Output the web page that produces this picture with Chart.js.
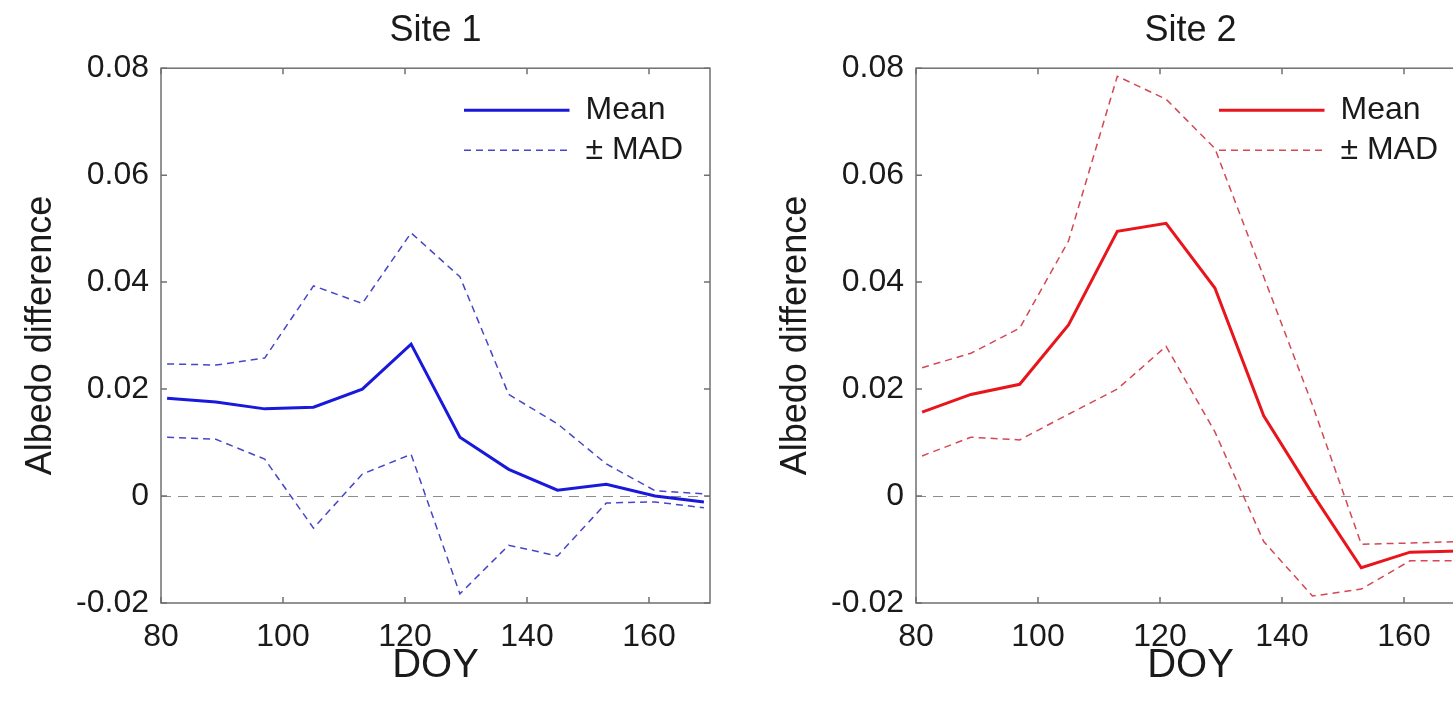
<!DOCTYPE html>
<html>
<head>
<meta charset="utf-8">
<script src="https://cdn.jsdelivr.net/npm/chart.js@4.4.1/dist/chart.umd.min.js"></script>
<style>
  html, body { margin: 0; padding: 0; background: #fff; overflow: hidden; width: 1453px; height: 702px; }
  .panel { position: absolute; top: 0; width: 730px; height: 702px; }
</style>
</head>
<body>
<div class="panel" style="left:0px"><canvas id="site1Chart" width="730" height="702"></canvas></div>
<div class="panel" style="left:755px"><canvas id="site2Chart" width="730" height="702"></canvas></div>
<script>
const doy = [81, 89, 97, 105, 113, 121, 129, 137, 145, 153, 161, 169];
const xTicks = [80, 100, 120, 140, 160];
const yTicks = [-0.02, 0, 0.02, 0.04, 0.06, 0.08];

const site1Mean = [0.0183, 0.0176, 0.0163, 0.0166, 0.0200, 0.0284, 0.0110, 0.0050, 0.0011, 0.0022, 0.0000, -0.0011];
const site1Upper = [0.0247, 0.0245, 0.0258, 0.0393, 0.0360, 0.0492, 0.0410, 0.0190, 0.0135, 0.0060, 0.0010, 0.0004];
const site1Lower = [0.0110, 0.0106, 0.0069, -0.0060, 0.0041, 0.0078, -0.0183, -0.0092, -0.0112, -0.0013, -0.0011, -0.0022];

const site2Mean = [0.0157, 0.0190, 0.0209, 0.0320, 0.0495, 0.0510, 0.0389, 0.0150, 0.0004, -0.0134, -0.0105, -0.0103];
const site2Upper = [0.0240, 0.0267, 0.0314, 0.0477, 0.0785, 0.0742, 0.0650, 0.0410, 0.0170, -0.0090, -0.0088, -0.0085];
const site2Lower = [0.0075, 0.0110, 0.0105, 0.0153, 0.0200, 0.0280, 0.0120, -0.0085, -0.0187, -0.0174, -0.0121, -0.0121];

const FONT = "'Liberation Sans', Arial, sans-serif";

// box round the plot with small inward ticks, legend moved into the top right corner
const framePlugin = {
  id: "frame",
  afterLayout(chart) {
    const a = chart.chartArea;
    chart.legend.left = a.right - 254;
    chart.legend.top = a.top + 18;
  },
  afterDraw(chart) {
    const { ctx, chartArea: a, scales } = chart;
    ctx.save();
    ctx.strokeStyle = "#707070";
    ctx.lineWidth = 1.5;
    ctx.setLineDash([]);
    ctx.strokeRect(a.left, a.top, a.right - a.left, a.bottom - a.top);
    ctx.beginPath();
    scales.x.ticks.forEach((t) => {
      const px = scales.x.getPixelForValue(t.value);
      ctx.moveTo(px, a.bottom); ctx.lineTo(px, a.bottom - 6);
      ctx.moveTo(px, a.top); ctx.lineTo(px, a.top + 6);
    });
    scales.y.ticks.forEach((t) => {
      const py = scales.y.getPixelForValue(t.value);
      ctx.moveTo(a.left, py); ctx.lineTo(a.left + 6, py);
      ctx.moveTo(a.right, py); ctx.lineTo(a.right - 6, py);
    });
    ctx.stroke();
    ctx.restore();
  },
};

function toPoints(values) {
  return doy.map((d, i) => ({ x: d, y: values[i] }));
}

function makeChart(id, title, mean, upper, lower, meanColor, madColor) {
  const ctx = document.getElementById(id).getContext("2d");
  return new Chart(ctx, {
    type: "line",
    data: {
      datasets: [
        { label: "Mean", data: toPoints(mean), borderColor: meanColor, backgroundColor: "rgba(0,0,0,0)", borderWidth: 3, pointRadius: 0, tension: 0 },
        { label: "± MAD", data: toPoints(upper), borderColor: madColor, backgroundColor: "rgba(0,0,0,0)", borderWidth: 1.5, borderDash: [7, 5], pointRadius: 0, tension: 0 },
        { label: "± MAD", data: toPoints(lower), borderColor: madColor, backgroundColor: "rgba(0,0,0,0)", borderWidth: 1.5, borderDash: [7, 5], pointRadius: 0, tension: 0 },
      ],
    },
    options: {
      responsive: false,
      animation: false,
      events: [],
      layout: { padding: { left: 0, right: 20, top: 0, bottom: 0 } },
      plugins: {
        title: {
          display: true,
          text: title,
          fullSize: false,
          color: "#1a1a1a",
          font: { family: FONT, size: 36, weight: "normal" },
          padding: { top: 9, bottom: 16 },
        },
        legend: {
          position: "chartArea",
          align: "start",
          labels: {
            // zero-height box gives a plain line sample; width chosen so the dashes line up both ways
            boxWidth: 105.5,
            boxHeight: 0,
            padding: 8,
            color: "#1a1a1a",
            font: { family: FONT, size: 32 },
            filter: (item) => item.datasetIndex < 2,
          },
        },
        tooltip: { enabled: false },
      },
      scales: {
        x: {
          type: "linear",
          min: 80,
          max: 170,
          afterBuildTicks: (scale) => { scale.ticks = xTicks.map((v) => ({ value: v })); },
          afterFit: (scale) => { scale.height = 99; },
          grid: { display: false },
          border: { display: false },
          ticks: { color: "#1a1a1a", padding: 7, font: { family: FONT, size: 32 } },
          title: {
            display: true,
            text: "DOY",
            color: "#1a1a1a",
            font: { family: FONT, size: 40 },
            padding: { top: 0, bottom: 12 },
          },
        },
        y: {
          min: -0.02,
          max: 0.08,
          afterBuildTicks: (scale) => { scale.ticks = yTicks.map((v) => ({ value: v })); },
          afterFit: (scale) => { scale.width = 161; },
          grid: {
            drawTicks: false,
            lineWidth: 1,
            color: (c) => (c.tick && c.tick.value === 0 ? "#8c8c8c" : "rgba(0,0,0,0)"),
          },
          border: { display: false, dash: [10, 7] },
          ticks: {
            color: "#1a1a1a",
            padding: 12,
            font: { family: FONT, size: 32 },
            callback: (v) => String(Math.round(v * 100) / 100),
          },
          title: {
            display: true,
            text: "Albedo difference",
            color: "#1a1a1a",
            font: { family: FONT, size: 36 },
            padding: { top: 19, bottom: 0 },
          },
        },
      },
    },
    plugins: [framePlugin],
  });
}

makeChart("site1Chart", "Site 1", site1Mean, site1Upper, site1Lower, "rgb(25,25,220)", "rgb(70,70,200)");
makeChart("site2Chart", "Site 2", site2Mean, site2Upper, site2Lower, "rgb(232,22,28)", "rgb(212,72,84)");
</script>
</body>
</html>
